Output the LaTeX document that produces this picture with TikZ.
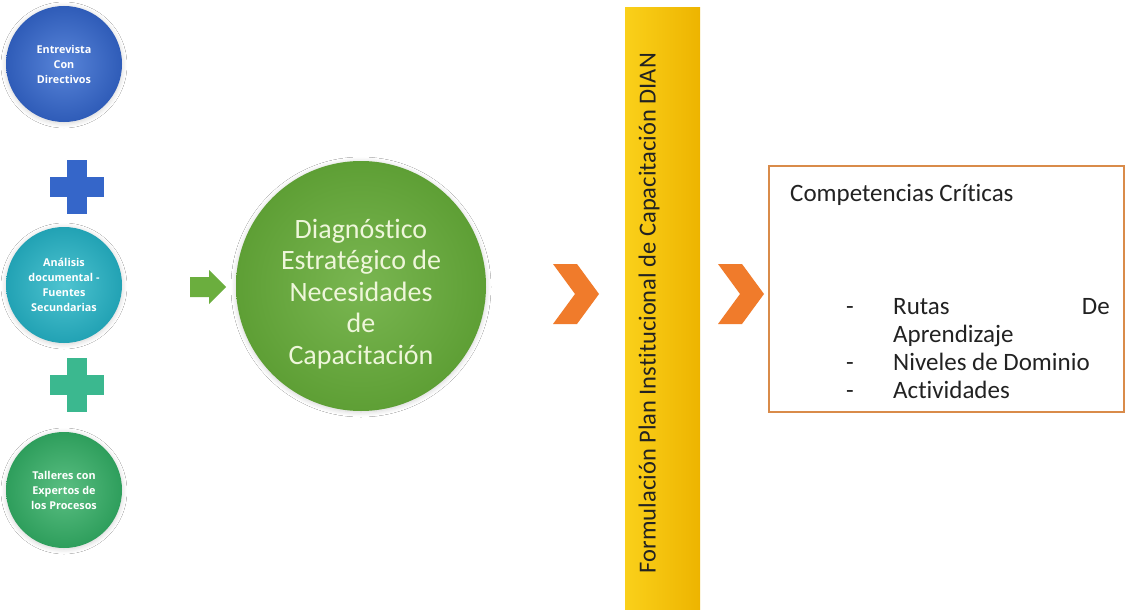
\documentclass[tikz,border=0pt]{standalone}
\usepackage{fontspec}
\setmainfont{Carlito}[Ligatures=NoCommon]
\newfontfamily\circfont{Open Sans}
\usetikzlibrary{shadows.blur}
\definecolor{cblue}{HTML}{3B6FD2}
\definecolor{cblueD}{HTML}{2F5CB8}
\definecolor{cteal}{HTML}{2FB9C8}
\definecolor{ctealD}{HTML}{22A2B4}
\definecolor{cgreen}{HTML}{3DB36C}
\definecolor{cgreenD}{HTML}{2E9E5C}
\definecolor{cplusA}{HTML}{3566C9}
\definecolor{cplusB}{HTML}{3BB88F}
\definecolor{cbig}{HTML}{6BAE3E}
\definecolor{cbigD}{HTML}{5E9F35}
\definecolor{cbigtxt}{HTML}{EEF6DA}
\definecolor{corange}{HTML}{F07B2B}
\definecolor{cbarL}{HTML}{FAD01A}
\definecolor{cbarR}{HTML}{EDB400}
\definecolor{cbox}{HTML}{D98B4A}
\definecolor{ctext}{HTML}{222222}
\tikzset{
  softshadow/.style={blur shadow={shadow blur steps=8, shadow xshift=0pt, shadow yshift=-1pt, shadow opacity=18, shadow blur radius=5pt}},
  smallcirc/.style={circle, minimum size=116pt, inner sep=0pt, align=center,
    text=white, font=\circfont\bfseries\fontsize{10.8}{15}\selectfont, softshadow},
  chev/.style={fill=corange, draw=none},
  boxtext/.style={font=\fontsize{25}{28}\selectfont, text=ctext, inner sep=0pt}
}
\begin{document}
\begin{tikzpicture}[x=1pt,y=-1pt]
\useasboundingbox (0,0) rectangle (1127,610);
\fill[white] (0,0) rectangle (1127,610);
% small circles
\node[smallcirc, inner color=cblue!85!white, outer color=cblueD] (c1) at (64,64) {Entrevista\\Con\\Directivos};
\node[smallcirc, inner color=cteal!85!white, outer color=ctealD] (c2) at (64,285) {Análisis\\documental -\\Fuentes\\Secundarias};
\node[smallcirc, inner color=cgreen!85!white, outer color=cgreenD] (c3) at (64,490) {Talleres con\\Expertos de\\los Procesos};
% plus signs
\coordinate (p1) at (77,187);
\coordinate (p2) at (77,385);
\fill[cplusA] ([xshift=-27pt,yshift=-10pt]p1) rectangle ([xshift=27pt,yshift=10pt]p1);
\fill[cplusA] ([xshift=-10pt,yshift=-27pt]p1) rectangle ([xshift=10pt,yshift=27pt]p1);
\fill[cplusB] ([xshift=-27pt,yshift=-10pt]p2) rectangle ([xshift=27pt,yshift=10pt]p2);
\fill[cplusB] ([xshift=-10pt,yshift=-27pt]p2) rectangle ([xshift=10pt,yshift=27pt]p2);
% green block arrow
\coordinate (ga) at (190,287);
\fill[cbig] (ga) ++(0,-10) -- ++(19,0) -- ++(0,-7) -- ++(17,17) -- ++(-17,17) -- ++(0,-7) -- ++(-19,0) -- cycle;
% big circle
\node[circle, minimum size=250pt, inner sep=0pt, inner color=cbig!90!white, outer color=cbigD,
  softshadow] (big) at (361,286) {};
\node[text=cbigtxt, align=center, font=\fontsize{28}{31.5}\selectfont, inner sep=0pt] (bigt) at (361,294)
  {Diagnóstico\\Estratégico de\\Necesidades\\de\\Capacitación};
% chevrons
\coordinate (ch1) at (553,264);
\coordinate (ch2) at (718,264);
\fill[chev] (ch1) -- ++(24,0) -- ++(22,30) -- ++(-22,30) -- ++(-24,0) -- ++(22,-30) -- cycle;
\fill[chev] (ch2) -- ++(24,0) -- ++(22,30) -- ++(-22,30) -- ++(-24,0) -- ++(22,-30) -- cycle;
% yellow bar
\node[draw=none, left color=cbarL, right color=cbarR, minimum width=75pt, minimum height=610pt,
  inner sep=0pt, anchor=north west] (bar) at (625,7) {};
\node[rotate=90, font=\fontsize{24.5}{26}\selectfont, text=ctext, inner sep=0pt] (bart) at (649,313)
  {Formulación Plan Institucional de Capacitación DIAN};
% box
\draw[cbox, line width=2pt] (769,166) rectangle (1124,412);
\node[boxtext, anchor=base west] (t0) at (790,201) {Competencias Críticas};
\node[boxtext, anchor=base west] (d1) at (846,314) {-};
\node[boxtext, anchor=base west] (t1) at (893,314) {Rutas};
\node[boxtext, anchor=base east] (t1b) at (1110,314) {De};
\node[boxtext, anchor=base west] (t2) at (893,342) {Aprendizaje};
\node[boxtext, anchor=base west] (d3) at (846,370) {-};
\node[boxtext, anchor=base west] (t3) at (893,370) {Niveles de Dominio};
\node[boxtext, anchor=base west] (d4) at (846,398) {-};
\node[boxtext, anchor=base west] (t4) at (893,398) {Actividades};
\end{tikzpicture}
\end{document}
